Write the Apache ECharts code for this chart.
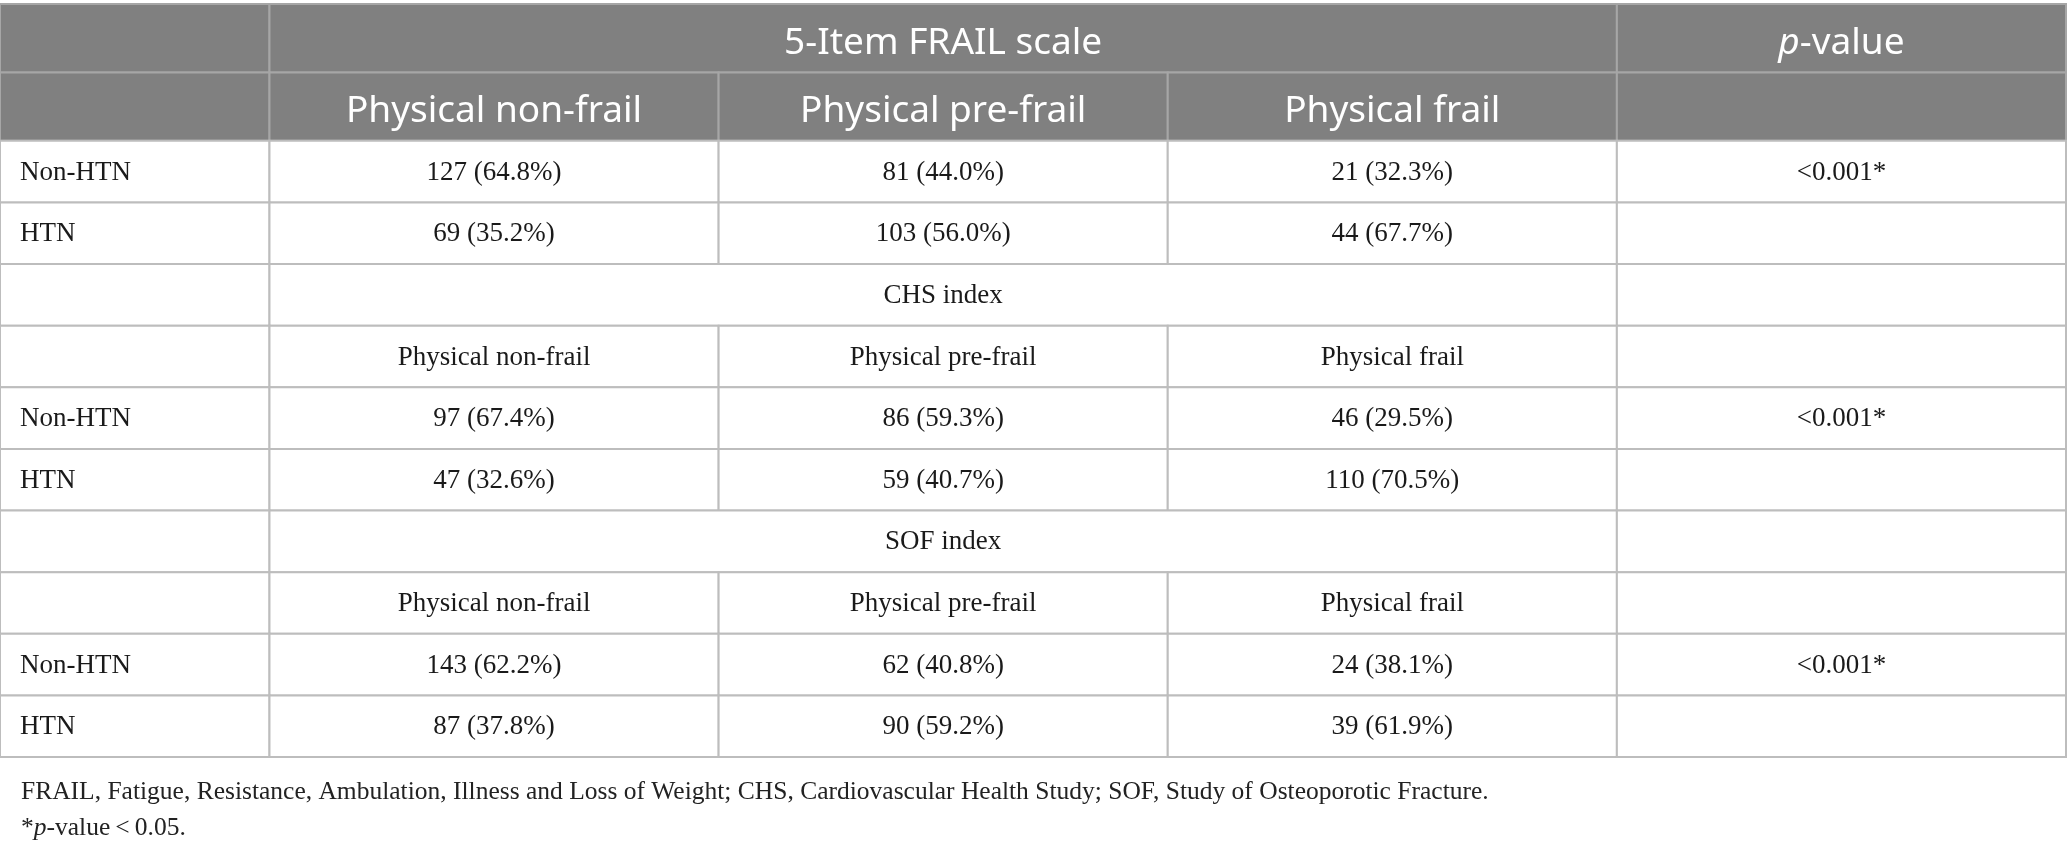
<!DOCTYPE html>
<html><head><meta charset="utf-8">
<script src="https://cdn.jsdelivr.net/npm/echarts@6/dist/echarts.min.js"></script>
<style>html,body{margin:0;padding:0;background:#fff}#c{width:2067px;height:849px}</style>
</head><body><div id="c"></div>
<script>
// ---- data ----
const scaleNames = ['5-Item FRAIL scale', 'CHS index', 'SOF index'];
const frailtyLevels = ['Physical non-frail', 'Physical pre-frail', 'Physical frail'];
const groups = ['Non-HTN', 'HTN'];
const counts = [
  [[127, 81, 21], [69, 103, 44]],
  [[97, 86, 46], [47, 59, 110]],
  [[143, 62, 24], [87, 90, 39]]
];
const percents = [
  [[64.8, 44.0, 32.3], [35.2, 56.0, 67.7]],
  [[67.4, 59.3, 29.5], [32.6, 40.7, 70.5]],
  [[62.2, 40.8, 38.1], [37.8, 59.2, 61.9]]
];
const pValues = ['<0.001*', '<0.001*', '<0.001*'];
const pHeader = '{i|p}-value';
const footnote1 = 'FRAIL, Fatigue, Resistance, Ambulation, Illness and Loss of Weight; CHS, Cardiovascular Health Study; SOF, Study of Osteoporotic Fracture.';
const footnote2 = '*{i|p}-value\u2009<\u20090.05.';

// ---- layout (axis units) ----
const colEdges = [0, 0.6, 1.6, 2.6, 3.6, 4.6];
const rowKinds = [];   // 'head' or 'body'
const cells = [];      // {c0, c1, r, text, kind, align}
function addRow(kind, items) {
  const r = rowKinds.length;
  rowKinds.push(kind);
  items.forEach(it => cells.push(Object.assign({ r: r, kind: kind }, it)));
}
scaleNames.forEach((s, si) => {
  const kind = si === 0 ? 'head' : 'body';
  addRow(kind, [{ c0: 0, c1: 1, text: '' }, { c0: 1, c1: 4, text: s }, { c0: 4, c1: 5, text: si === 0 ? pHeader : '' }]);
  addRow(kind, [{ c0: 0, c1: 1, text: '' }].concat(frailtyLevels.map((l, i) => ({ c0: i + 1, c1: i + 2, text: l }))).concat([{ c0: 4, c1: 5, text: '' }]));
  groups.forEach((g, gi) => {
    const items = [{ c0: 0, c1: 1, text: g, align: 'left' }];
    for (let k = 0; k < 3; k++) {
      items.push({ c0: k + 1, c1: k + 2, text: counts[si][gi][k] + ' (' + percents[si][gi][k].toFixed(1) + '%)' });
    }
    items.push({ c0: 4, c1: 5, text: gi === 0 ? pValues[si] : '' });
    addRow('body', items);
  });
});
const rowEdges = [0];
rowKinds.forEach(k => rowEdges.push(rowEdges[rowEdges.length - 1] + (k === 'head' ? 1.11 : 1)));
const seriesData = cells.map(c => [colEdges[c.c0], colEdges[c.c1], rowEdges[c.r], rowEdges[c.r + 1]]);

const headFont = '"Noto Sans", sans-serif';
const bodyFont = '"Liberation Serif", "DejaVu Serif", serif';
const headSize = 37;

const chart = echarts.init(document.getElementById('c'), null, { renderer: 'canvas' });
chart.setOption({
  animation: false,
  grid: { left: 0, right: 1, top: 4, bottom: 92 },
  xAxis: { type: 'value', min: 0, max: colEdges[colEdges.length - 1], show: false },
  yAxis: { type: 'value', min: 0, max: rowEdges[rowEdges.length - 1], inverse: true, show: false },
  graphic: [
    { type: 'text', left: 21, top: 779, style: { text: footnote1, font: '25.5px ' + bodyFont, fill: '#222' } },
    { type: 'text', left: 21, top: 815, style: { text: footnote2, font: '25.5px ' + bodyFont, fill: '#222',
      rich: { i: { fontStyle: 'italic', fontSize: 25.5, fontFamily: bodyFont, fill: '#222' } } } }
  ],
  series: [{
    type: 'custom',
    coordinateSystem: 'cartesian2d',
    data: seriesData,
    renderItem: function (params, api) {
      const c = cells[params.dataIndex];
      const p0 = api.coord([api.value(0), api.value(2)]);
      const p1 = api.coord([api.value(1), api.value(3)]);
      const head = c.kind === 'head';
      const left = c.align === 'left';
      const font = head ? headSize + 'px ' + headFont : '27px ' + bodyFont;
      return {
        type: 'group',
        children: [
          { type: 'rect', shape: { x: p0[0], y: p0[1], width: p1[0] - p0[0], height: p1[1] - p0[1] },
            style: { fill: head ? '#808080' : '#ffffff', stroke: head ? '#a6a6a6' : '#bdbdbd', lineWidth: 2 } },
          { type: 'text', z2: 10, style: {
              text: c.text,
              x: left ? p0[0] + 20 : (p0[0] + p1[0]) / 2,
              y: (p0[1] + p1[1]) / 2 + (head ? 5 : 1),
              align: left ? 'left' : 'center', verticalAlign: 'middle',
              font: font, fill: head ? '#ffffff' : '#1a1a1a',
              rich: { i: { fontStyle: 'italic', fontSize: headSize, fontFamily: headFont, fill: '#ffffff' } }
          } }
        ]
      };
    }
  }]
});
</script></body></html>
